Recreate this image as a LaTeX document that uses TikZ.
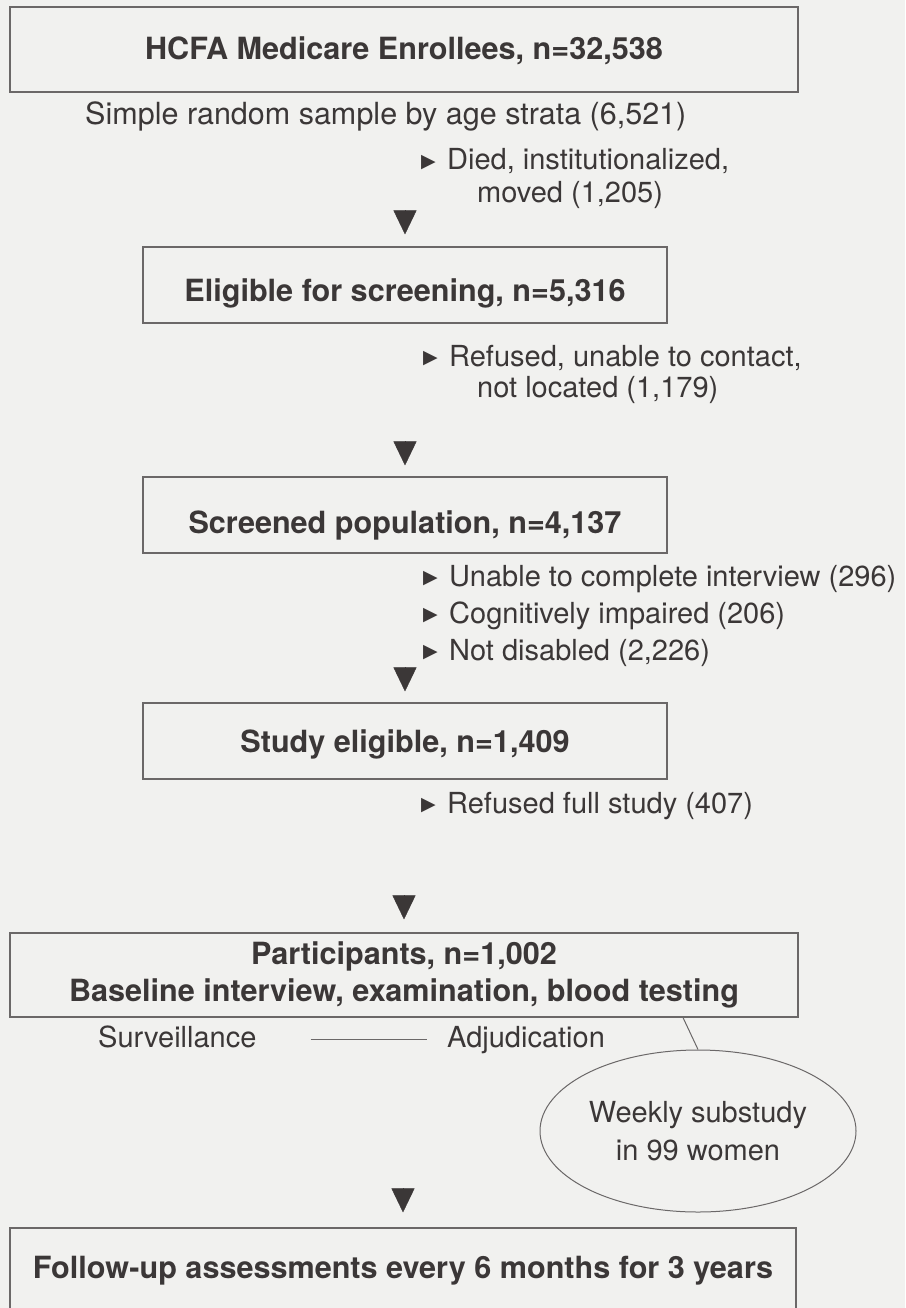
\documentclass[tikz,border=0pt]{standalone}
\usepackage{fontspec}
\setmainfont{TeX Gyre Heros}
\newfontfamily\symfont{DejaVu Sans}
\usetikzlibrary{arrows.meta,shapes.geometric}
\definecolor{ink}{HTML}{3B3737}
\definecolor{paper}{HTML}{F1F1EF}
\definecolor{rulecol}{HTML}{6B6868}
% small pointer in front of each exclusion note
\newcommand\mk{\makebox[26pt][l]{\raisebox{2.5pt}{\fontsize{19}{19}\symfont ▶}}}
\begin{document}
\begin{tikzpicture}[x=1pt,y=-1pt,
  flowbox/.style={draw=rulecol, line width=1.1pt, inner sep=0pt, text=ink,
    align=center, font=\bfseries\fontsize{30.6}{37}\selectfont},
  note/.style={inner sep=0pt, text=ink, font=\fontsize{29}{32}\selectfont},
  tag/.style={note, text height=22pt, text depth=6pt},
  downtip/.style={draw=ink, line width=0.4pt,
    -{Triangle[width=23pt,length=24pt]}},
  link/.style={draw=rulecol, line width=1pt}]
  \fill[paper] (0,0) rectangle (905,1308);
  \useasboundingbox (0,0) rectangle (905,1308);

  % main flow boxes
  \node[flowbox, minimum width=788pt, text height=53pt, text depth=32pt, anchor=base]
    (b1) at (404,60) {HCFA Medicare Enrollees, n=32,538};
  \node[flowbox, minimum width=524pt, text height=54pt, text depth=22pt, anchor=base]
    (b2) at (405,301) {Eligible for screening, n=5,316};
  \node[flowbox, minimum width=524pt, text height=56pt, text depth=20pt, anchor=base]
    (b3) at (405,533) {Screened population, n=4,137};
  \node[flowbox, minimum width=524pt, text height=49pt, text depth=27pt, anchor=base]
    (b4) at (405,752) {Study eligible, n=1,409};
  \node[flowbox, minimum width=788pt, minimum height=84pt]
    (b5) at (404,975) {Participants, n=1,002\\Baseline interview, examination, blood testing};
  \node[flowbox, minimum width=786pt, text height=50pt, text depth=34pt, anchor=base]
    (b6) at (403,1278) {Follow-up assessments every 6 months for 3 years};

  % sampling note and exclusions
  \node[note, font=\fontsize{30.5}{32}\selectfont, anchor=base west] (s1) at (85,125)
    {Simple random sample by age strata (6,521)};
  \node[note, anchor=base west] (x1) at (421,170) {\mk Died, institutionalized,};
  \node[note, anchor=base west] (x1b) at (477,202) {moved (1,205)};
  \node[note, anchor=base west] (x2) at (423,366) {\mk Refused, unable to contact,};
  \node[note, anchor=base west] (x2b) at (477,397) {not located (1,179)};
  \node[note, anchor=base west] (x3) at (423,586) {\mk Unable to complete interview (296)};
  \node[note, anchor=base west] (x4) at (423,623) {\mk Cognitively impaired (206)};
  \node[note, anchor=base west] (x5) at (423,660) {\mk Not disabled (2,226)};
  \node[note, anchor=base west] (x6) at (421,813) {\mk Refused full study (407)};

  % downward flow markers
  \foreach \b/\g in {b2/12, b3/11, b4/11, b5/13, b6/15}
    \draw[downtip] ([yshift=\g pt+24pt]\b.north) -- ([yshift=\g pt]\b.north);

  % follow-up activities
  \node[tag, anchor=base west] (surv) at (98,1047) {Surveillance};
  \node[tag, anchor=base west] (adj) at (447,1047) {Adjudication};
  \draw[link] (surv.east) -- (adj.west)
    [shorten <=54pt, shorten >=20pt];
  \node[draw=rulecol, line width=1pt, ellipse, inner sep=0pt,
    minimum width=316pt, minimum height=162pt, align=center, text=ink,
    font=\fontsize{29}{38}\selectfont] (ws) at (698,1131)
    {Weekly substudy\\in 99 women};
  \draw[link] ([xshift=279pt]b5.south) -- (ws.north);
\end{tikzpicture}
\end{document}
